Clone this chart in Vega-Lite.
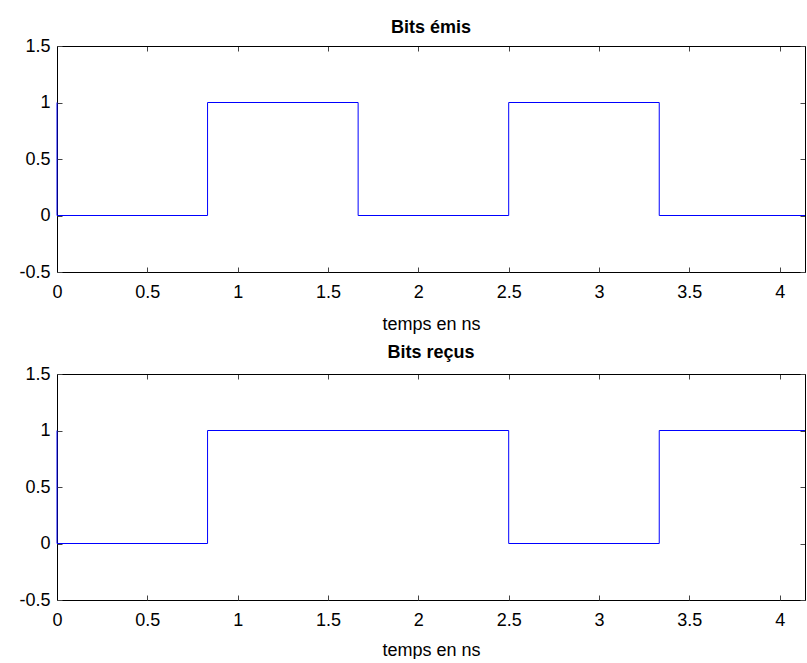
{
  "$schema": "https://vega.github.io/schema/vega-lite/v6.json",
  "padding": {"left": 6, "top": 19, "right": 2, "bottom": 0},
  "background": "white",
  "config": {
    "font": "Liberation Sans",
    "view": {"stroke": null},
    "axis": {"labelFont": "Liberation Sans", "titleFont": "Liberation Sans", "labelColor": "black", "titleColor": "black", "grid": false, "domainColor": "black", "domainWidth": 1, "tickColor": "#444", "tickSize": 5, "tickWidth": 1, "labelFontSize": 18, "titleFontSize": 18, "titleFontWeight": "normal", "zindex": 0, "minExtent": 0},
    "title": {"font": "Liberation Sans", "fontSize": 18, "fontWeight": "bold", "color": "black", "offset": 3, "baseline": "alphabetic"}
  },
  "datasets": {
    "emis": [
      {"i": 0, "t": 0, "v": 1}, {"i": 1, "t": 0, "v": 0}, {"i": 2, "t": 0.8333, "v": 0}, {"i": 3, "t": 0.8333, "v": 1},
      {"i": 4, "t": 1.6667, "v": 1}, {"i": 5, "t": 1.6667, "v": 0}, {"i": 6, "t": 2.5, "v": 0}, {"i": 7, "t": 2.5, "v": 1},
      {"i": 8, "t": 3.3333, "v": 1}, {"i": 9, "t": 3.3333, "v": 0}, {"i": 10, "t": 4.14, "v": 0}
    ],
    "recus": [
      {"i": 0, "t": 0, "v": 1}, {"i": 1, "t": 0, "v": 0}, {"i": 2, "t": 0.8333, "v": 0}, {"i": 3, "t": 0.8333, "v": 1},
      {"i": 4, "t": 2.5, "v": 1}, {"i": 5, "t": 2.5, "v": 0}, {"i": 6, "t": 3.3333, "v": 0}, {"i": 7, "t": 3.3333, "v": 1},
      {"i": 8, "t": 4.14, "v": 1}
    ]
  },
  "spacing": 11,
  "vconcat": [
    {
      "title": {"text": "Bits émis", "offset": 0},
      "width": 748, "height": 226,
      "data": {"name": "emis"},
      "layer": [
        {
          "mark": {"type": "line", "color": "#0000ff", "strokeWidth": 1},
          "encoding": {
            "order": {"field": "i", "type": "quantitative"},
            "x": {"field": "t", "type": "quantitative", "scale": {"domain": [0, 4.14], "nice": false, "zero": false},
                  "axis": {"orient": "bottom", "title": "temps en ns", "values": [0, 0.5, 1, 1.5, 2, 2.5, 3, 3.5, 4], "labelExpr": "'' + datum.value", "ticks": false, "domain": true, "labelPadding": 11, "titlePadding": 14, "labelFlush": false}},
            "y": {"field": "v", "type": "quantitative", "scale": {"domain": [-0.5, 1.5], "nice": false, "zero": false},
                  "axis": {"orient": "left", "title": null, "values": [-0.5, 0, 0.5, 1, 1.5], "labelExpr": "'' + datum.value", "ticks": false, "domain": true, "labelPadding": 7, "minExtent": 51, "maxExtent": 51}}
          }
        },
        {
          "mark": {"type": "line", "opacity": 0},
          "encoding": {
            "order": {"field": "i", "type": "quantitative"},
            "x": {"field": "t", "type": "quantitative", "axis": {"orient": "top", "offset": -226, "title": null, "labels": false, "domain": false, "values": [0, 0.5, 1, 1.5, 2, 2.5, 3, 3.5, 4], "maxExtent": 0}},
            "y": {"field": "v", "type": "quantitative", "axis": {"orient": "right", "offset": -748, "title": null, "labels": false, "domain": false, "values": [-0.5, 0, 0.5, 1, 1.5], "maxExtent": 0}}
          }
        },
        {
          "mark": {"type": "line", "opacity": 0},
          "encoding": {
            "order": {"field": "i", "type": "quantitative"},
            "x": {"field": "t", "type": "quantitative", "axis": {"orient": "bottom", "offset": -226, "title": null, "labels": false, "domain": true, "values": [0, 0.5, 1, 1.5, 2, 2.5, 3, 3.5, 4], "maxExtent": 0}},
            "y": {"field": "v", "type": "quantitative", "axis": {"orient": "left", "offset": -748, "title": null, "labels": false, "domain": true, "values": [-0.5, 0, 0.5, 1, 1.5], "maxExtent": 0}}
          }
        }
      ],
      "resolve": {"axis": {"x": "independent", "y": "independent"}}
    },
    {
      "title": "Bits reçus",
      "width": 748, "height": 226,
      "data": {"name": "recus"},
      "layer": [
        {
          "mark": {"type": "line", "color": "#0000ff", "strokeWidth": 1},
          "encoding": {
            "order": {"field": "i", "type": "quantitative"},
            "x": {"field": "t", "type": "quantitative", "scale": {"domain": [0, 4.14], "nice": false, "zero": false},
                  "axis": {"orient": "bottom", "title": "temps en ns", "values": [0, 0.5, 1, 1.5, 2, 2.5, 3, 3.5, 4], "labelExpr": "'' + datum.value", "ticks": false, "domain": true, "labelPadding": 11, "titlePadding": 12, "labelFlush": false}},
            "y": {"field": "v", "type": "quantitative", "scale": {"domain": [-0.5, 1.5], "nice": false, "zero": false},
                  "axis": {"orient": "left", "title": null, "values": [-0.5, 0, 0.5, 1, 1.5], "labelExpr": "'' + datum.value", "ticks": false, "domain": true, "labelPadding": 7, "minExtent": 51, "maxExtent": 51}}
          }
        },
        {
          "mark": {"type": "line", "opacity": 0},
          "encoding": {
            "order": {"field": "i", "type": "quantitative"},
            "x": {"field": "t", "type": "quantitative", "axis": {"orient": "top", "offset": -226, "title": null, "labels": false, "domain": false, "values": [0, 0.5, 1, 1.5, 2, 2.5, 3, 3.5, 4], "maxExtent": 0}},
            "y": {"field": "v", "type": "quantitative", "axis": {"orient": "right", "offset": -748, "title": null, "labels": false, "domain": false, "values": [-0.5, 0, 0.5, 1, 1.5], "maxExtent": 0}}
          }
        },
        {
          "mark": {"type": "line", "opacity": 0},
          "encoding": {
            "order": {"field": "i", "type": "quantitative"},
            "x": {"field": "t", "type": "quantitative", "axis": {"orient": "bottom", "offset": -226, "title": null, "labels": false, "domain": true, "values": [0, 0.5, 1, 1.5, 2, 2.5, 3, 3.5, 4], "maxExtent": 0}},
            "y": {"field": "v", "type": "quantitative", "axis": {"orient": "left", "offset": -748, "title": null, "labels": false, "domain": true, "values": [-0.5, 0, 0.5, 1, 1.5], "maxExtent": 0}}
          }
        }
      ],
      "resolve": {"axis": {"x": "independent", "y": "independent"}}
    }
  ]
}
